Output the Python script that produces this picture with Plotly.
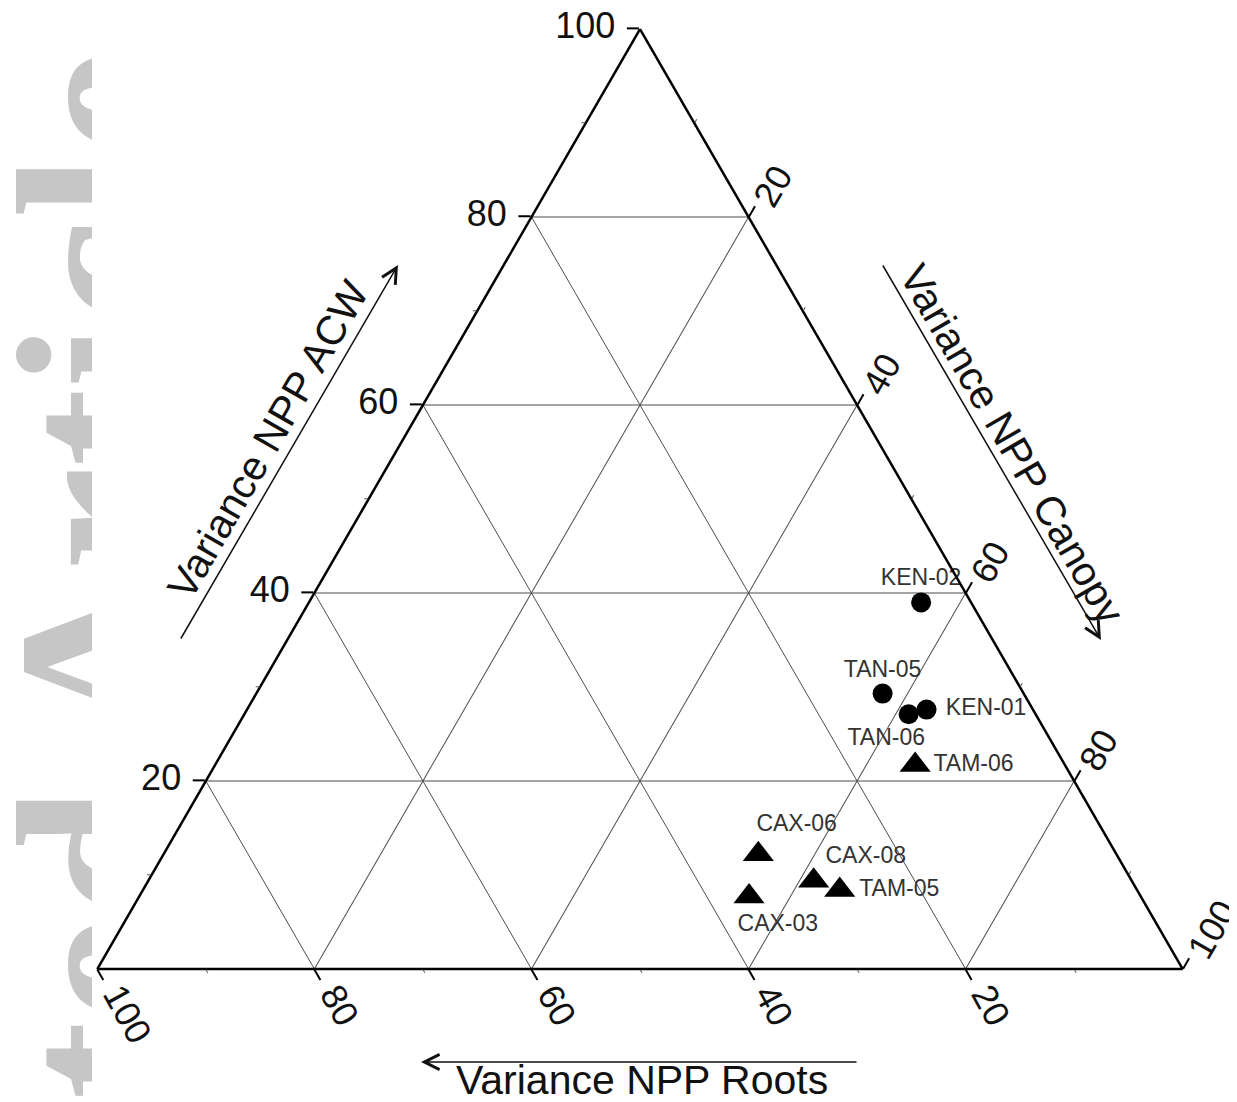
import plotly.graph_objects as go

# page offset of the plot div (browser body margin)
OFF = 8
PAGE_W, PAGE_H = 1237, 1102
W, H = PAGE_W - OFF, PAGE_H - OFF

# ---- data (percent of variance) ----
sites_circle = ["KEN-02", "TAN-05", "TAN-06", "KEN-01"]
acw_circle = [39.0, 29.3, 27.1, 27.6]
roots_circle = [4.6, 13.0, 11.7, 9.8]
canopy_circle = [56.4, 57.7, 61.2, 62.6]

sites_tri = ["TAM-06", "CAX-06", "CAX-03", "CAX-08", "TAM-05"]
acw_tri = [21.7, 12.2, 7.7, 9.4, 8.4]
roots_tri = [13.8, 33.0, 36.1, 29.3, 27.4]
canopy_tri = [64.5, 54.8, 56.2, 61.3, 64.2]

tick_vals = [20, 40, 60, 80, 100]
tick_text = ["20", "40", "60", "80", "100"]
minor_tick_vals = [10, 30, 50, 70, 90]

title_acw = "Variance NPP ACW"
title_canopy = "Variance NPP Canopy"
title_roots = "Variance NPP Roots"
watermark = "Accepted Article"

# ---- label placement styles (position, offset size, nbsp padding lead/trail) ----
lab_pos_circle = ["top center", "top center", "bottom center", "middle right"]
lab_off_circle = [16.8, 16.4, 20.4, 29.3]
lab_pad_circle = [(0, 0), (0, 0), (0, 7), (0, 0)]
lab_pos_tri = ["middle right", "top center", "bottom center", "top right", "middle right"]
lab_off_tri = [27.7, 26.4, 25.2, 17.3, 29.6]
lab_pad_tri = [(0, 0), (12, 0), (9, 0), (0, 0), (0, 0)]

FONT = "Liberation Sans, Arial, Helvetica, sans-serif"
NB = "\u00a0"


def fx(x):
    return (x - OFF) / W


def fy(y):
    return 1 - (y - OFF) / H


def padded(names, pads):
    return [NB * l + n + NB * t for n, (l, t) in zip(names, pads)]


fig = go.Figure()

# markers
fig.add_trace(go.Scatterternary(
    a=acw_circle, b=roots_circle, c=canopy_circle, mode="markers",
    marker=dict(symbol="circle", size=20, color="black"),
    cliponaxis=False, hoverinfo="skip",
))
fig.add_trace(go.Scatterternary(
    a=acw_tri, b=roots_tri, c=canopy_tri, mode="markers",
    marker=dict(symbol="triangle-up", size=27, color="black"),
    cliponaxis=False, hoverinfo="skip",
))
# labels (invisible markers only set the text offset)
for a_, b_, c_, names, pos, off, pads in [
    (acw_circle, roots_circle, canopy_circle, sites_circle, lab_pos_circle, lab_off_circle, lab_pad_circle),
    (acw_tri, roots_tri, canopy_tri, sites_tri, lab_pos_tri, lab_off_tri, lab_pad_tri),
]:
    fig.add_trace(go.Scatterternary(
        a=a_, b=b_, c=c_, mode="markers+text",
        text=padded(names, pads), textposition=pos,
        marker=dict(size=off, color="rgba(0,0,0,0)", line=dict(width=0)),
        textfont=dict(family=FONT, size=23, color="#333333"),
        cliponaxis=False, hoverinfo="skip",
    ))

# empty traces so the overlay ternaries (tick marks) are drawn
for sp in ["ternary2", "ternary3"]:
    fig.add_trace(go.Scatterternary(a=[], b=[], c=[], mode="markers",
                                    subplot=sp, hoverinfo="skip"))

# watermark, clipped to a narrow strip at the left edge
fig.add_trace(go.Bar(
    x=[1.095], y=[0.4040], base=[0], width=[0.01],
    text=[watermark], textposition="inside", textangle=-90,
    insidetextanchor="middle", constraintext="none", cliponaxis=True,
    textfont=dict(family="Liberation Serif, Times New Roman, serif", size=235,
                  color="rgb(198,198,198)", weight="bold"),
    marker=dict(color="rgba(0,0,0,0)", line=dict(width=0)),
    xaxis="x", yaxis="y", hoverinfo="skip", showlegend=False,
))

axis_common = dict(
    tickmode="array", tickvals=tick_vals,
    ticks="outside", tickwidth=1.5,
    linecolor="black", linewidth=2.5, showline=True,
    showgrid=True, gridcolor="#4d4d4d", gridwidth=1.2,
    tickfont=dict(family=FONT, size=36, color="#111111"),
    title=dict(text=""), min=0,
)
NOTICK = "rgba(0,0,0,0)"
minor_axis = dict(
    tickmode="array", tickvals=minor_tick_vals,
    ticks="outside", ticklen=4, tickwidth=1, tickcolor="#555555",
    showline=False, showgrid=False, showticklabels=False,
    title=dict(text=""), min=0,
)
major_axis = dict(
    tickmode="array", tickvals=tick_vals,
    ticks="outside", ticklen=12, tickwidth=1.5, tickcolor="black",
    showline=False, showgrid=False, showticklabels=False,
    title=dict(text=""), min=0,
)

domain = dict(x=[fx(97), fx(1183)], y=[fy(969), fy(29)])

fig.update_layout(
    width=W, height=H,
    margin=dict(l=0, r=0, t=0, b=0),
    paper_bgcolor="white", plot_bgcolor="rgba(0,0,0,0)",
    showlegend=False,
    xaxis=dict(domain=[0, fx(92)], range=[0, 1], visible=False, fixedrange=True),
    yaxis=dict(domain=[0, 1], range=[0, 1], visible=False, fixedrange=True),
    ternary=dict(
        sum=100, domain=domain, bgcolor="white",
        aaxis=dict(**axis_common, ticklen=12, tickcolor="black",
                   ticktext=[t + "\u2009" for t in tick_text], tickangle=0),
        baxis=dict(**axis_common, ticklen=0, tickcolor=NOTICK,
                   ticktext=[t + "<br>" + NB for t in tick_text], tickangle=61),
        caxis=dict(**axis_common, ticklen=8, tickcolor=NOTICK,
                   ticktext=tick_text, tickangle=-60),
    ),
    ternary2=dict(
        sum=100, domain=domain, bgcolor="rgba(0,0,0,0)",
        aaxis=minor_axis, baxis=minor_axis, caxis=minor_axis,
    ),
    ternary3=dict(
        sum=100, domain=domain, bgcolor="rgba(0,0,0,0)",
        aaxis=dict(minor_axis, ticks=""), baxis=major_axis, caxis=major_axis,
    ),
)

ann = []
# axis titles
for txt, (x, y), ang in [
    (title_acw, (268, 440), -60),
    (title_canopy, (1012, 444), 60),
    (title_roots, (642, 1080), 0),
]:
    ann.append(dict(text=txt, x=fx(x), y=fy(y), xref="paper", yref="paper",
                    xanchor="center", yanchor="middle", textangle=ang,
                    showarrow=False, font=dict(family=FONT, size=41, color="#111111")))
# arrows
for (tx, ty), (sx, sy) in [
    ((398, 265), (180, 640)),
    ((1101, 640), (882, 264)),
    ((421, 1062), (858, 1062)),
]:
    ann.append(dict(text="", x=fx(tx), y=fy(ty), xref="paper", yref="paper",
                    ax=sx - tx, ay=sy - ty, axref="pixel", ayref="pixel",
                    showarrow=True, arrowhead=5, arrowsize=2, arrowwidth=1.5,
                    arrowcolor="#111111", standoff=0, startstandoff=0))
fig.update_layout(annotations=ann)

fig.write_html("out.html")
